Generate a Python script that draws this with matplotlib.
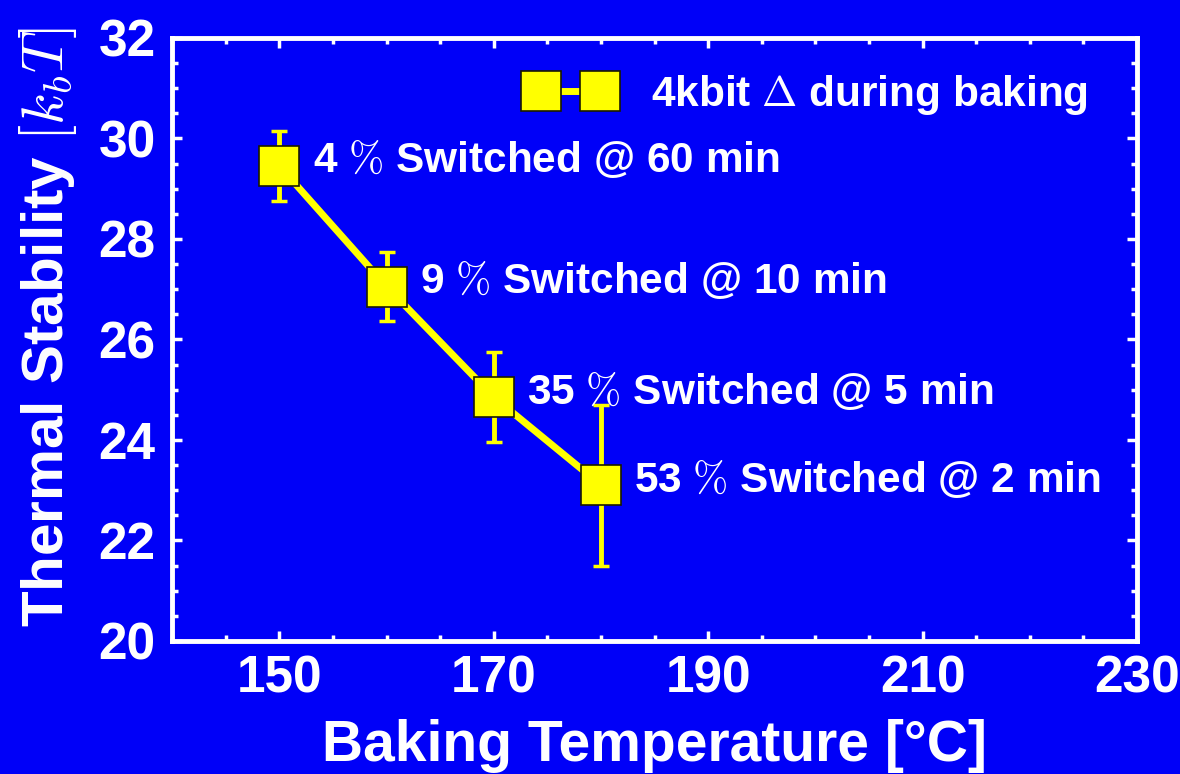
import matplotlib
matplotlib.use("Agg")
import matplotlib.pyplot as plt
from matplotlib.ticker import MultipleLocator

# baking data
temps = [150, 160, 170, 180]
stability = [29.45, 27.05, 24.85, 23.1]
stability_err = [0.7, 0.68, 0.9, 1.6]
switched_pct = [4, 9, 35, 53]
switched_min = [60, 10, 5, 2]

xticks = [150, 170, 190, 210, 230]
yticks = [20, 22, 24, 26, 28, 30, 32]

BLUE = "#0000F8"
YELLOW = "#FFFF00"
WHITE = "white"

plt.rcParams["font.family"] = ["Liberation Sans", "DejaVu Sans"]
plt.rcParams["font.weight"] = "bold"
plt.rcParams["mathtext.fontset"] = "cm"

fig = plt.figure(figsize=(11.8, 7.74), dpi=100, facecolor=BLUE)
ax = fig.add_axes([0.146, 0.172, 0.8176, 0.779], facecolor=BLUE)

ax.errorbar(temps, stability, yerr=stability_err, fmt="none",
            ecolor=YELLOW, elinewidth=3.5, capsize=6, capthick=2.5, zorder=2)
ax.plot(temps, stability, "s-", color=YELLOW, lw=5, ms=29,
        mec="#1a1a00", mew=1.2, zorder=3,
        label=r"4kbit $\Delta$ during baking")

for t, s, p, m in zip(temps, stability, switched_pct, switched_min):
    ax.annotate(rf"{p} $\%$ Switched @ {m} min", (t, s),
                xytext=(24, 4), textcoords="offset points",
                ha="left", va="center", color=WHITE,
                fontsize=30.5, fontweight="bold")

leg = ax.legend(loc="center left", bbox_to_anchor=(0.347, 0.905),
                frameon=False, numpoints=2, handlelength=2.0,
                handletextpad=0.9, borderpad=0, fontsize=30.5)
for txt in leg.get_texts():
    txt.set_color(WHITE)

ax.set_xlim(140, 230)
ax.set_ylim(20, 32)
ax.set_xticks(xticks)
ax.set_yticks(yticks)
ax.xaxis.set_minor_locator(MultipleLocator(5))
ax.yaxis.set_minor_locator(MultipleLocator(0.5))

for side in ["top", "bottom", "left", "right"]:
    ax.spines[side].set_color(WHITE)
    ax.spines[side].set_linewidth(3.5)

ax.tick_params(which="both", direction="in", top=True, right=True,
               color=WHITE, width=2.5)
ax.tick_params(which="major", length=7)
ax.tick_params(which="minor", length=4)
ax.tick_params(axis="y", which="major", pad=12, labelsize=37, labelcolor=WHITE)
ax.tick_params(axis="x", which="major", pad=10, labelsize=37, labelcolor=WHITE)

ax.set_xlabel("Baking Temperature [°C]", fontsize=41, color=WHITE,
              fontweight="bold", labelpad=11)
ax.set_ylabel(r"Thermal Stability $[k_bT]$", fontsize=42, color=WHITE,
              fontweight="bold", labelpad=14)
ax.yaxis.label.set_y(0.52)

fig.savefig("out.png", dpi=100, facecolor=BLUE)
